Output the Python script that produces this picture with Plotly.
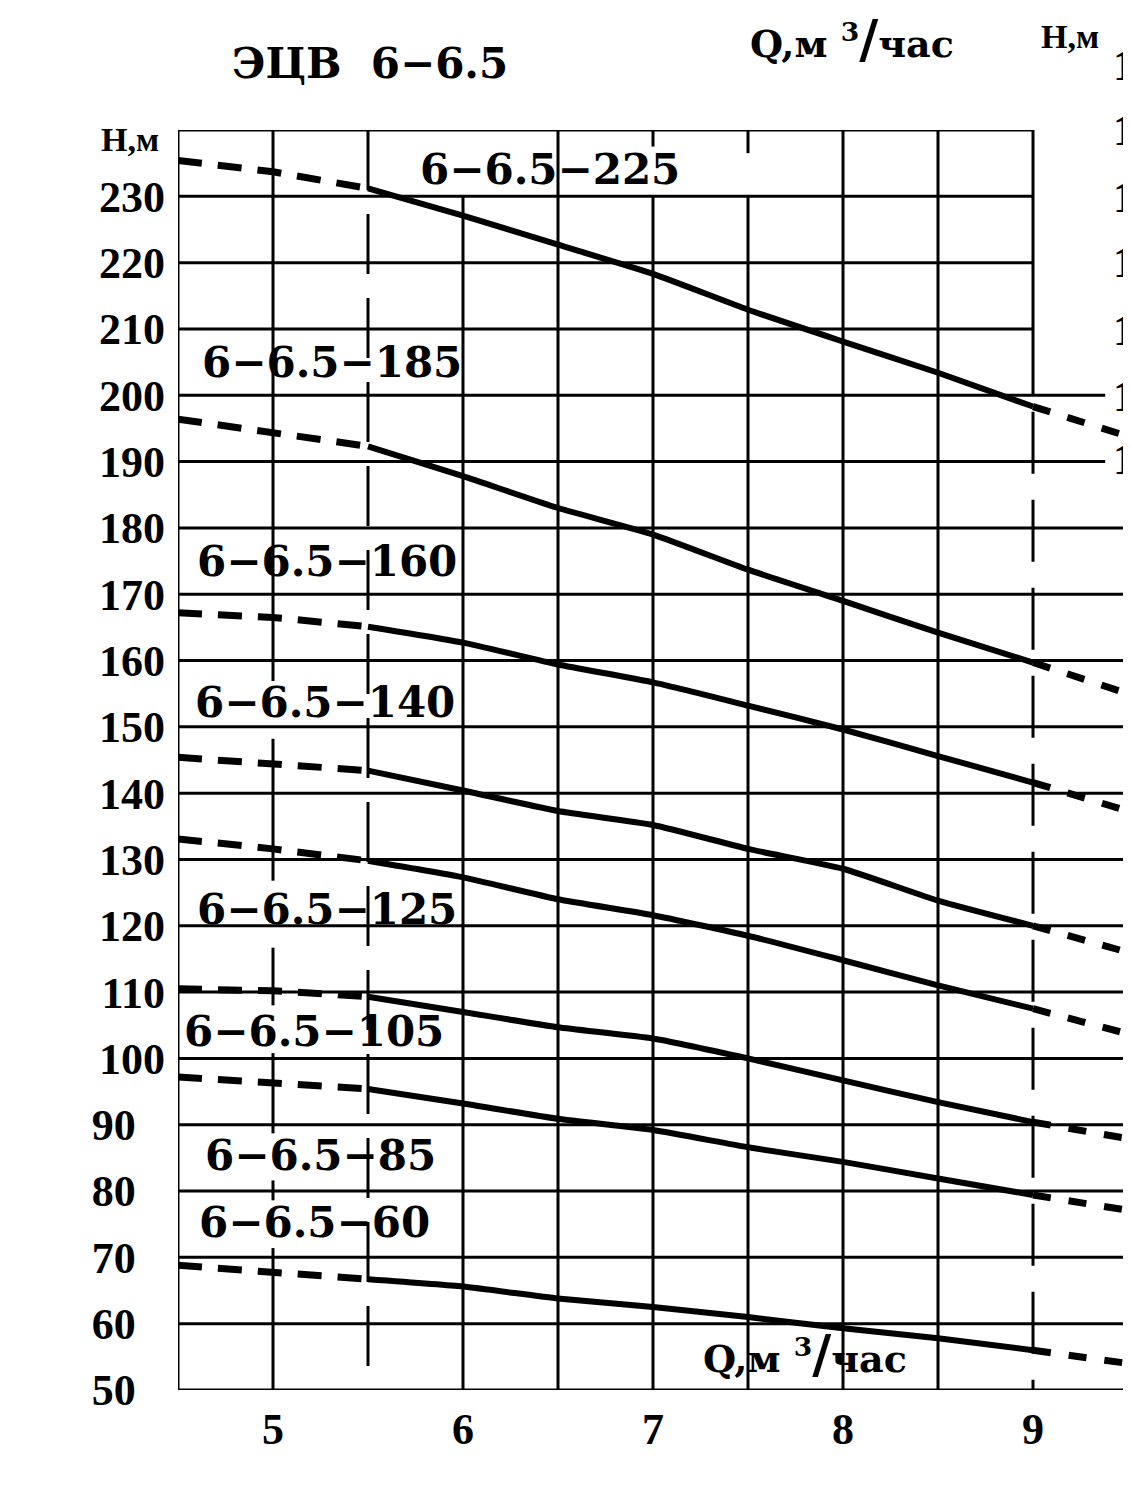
import plotly.graph_objects as go

# ---------------- data ----------------
Q = [4.5, 5.0, 5.5, 6.0, 6.5, 7.0, 7.5, 8.0, 8.5, 9.0, 9.5]
H_225 = [235.4, 233.7, 231.2, 227.1, 222.7, 218.3, 212.9, 208.1, 203.4, 198.3, 193.8]
H_185 = [196.4, 194.3, 192.3, 187.8, 183.0, 179.0, 173.7, 169.0, 164.2, 159.7, 155.0]
H_160 = [167.2, 166.5, 165.1, 162.7, 159.4, 156.7, 153.2, 149.6, 145.6, 141.6, 137.3]
H_140 = [145.4, 144.4, 143.4, 140.4, 137.3, 135.2, 131.6, 128.6, 123.8, 120.0, 116.0]
H_125 = [133.1, 131.6, 129.8, 127.3, 124.0, 121.6, 118.5, 114.8, 111.0, 107.5, 103.7]
H_105 = [110.5, 110.2, 109.3, 107.0, 104.7, 103.0, 100.0, 96.7, 93.4, 90.4, 87.9]
H_85 = [97.2, 96.4, 95.4, 93.2, 90.9, 89.2, 86.6, 84.4, 81.9, 79.4, 77.1]
H_60 = [68.8, 67.8, 66.7, 65.6, 63.8, 62.5, 61.0, 59.3, 57.8, 56.0, 54.0]

curve_names = ["6−6.5−225", "6−6.5−185", "6−6.5−160", "6−6.5−140",
               "6−6.5−125", "6−6.5−105", "6−6.5−85", "6−6.5−60"]
curves = [H_225, H_185, H_160, H_140, H_125, H_105, H_85, H_60]

x_ticks = [5, 6, 7, 8, 9]
y_ticks = list(range(50, 240, 10))
y_ticktext = [(str(v) + "\u00a0\u00a0\u2006") if v < 100 else str(v) for v in y_ticks]

title_text = "ЭЦВ  6−6.5"
q_label = "Q,м <sup>3</sup><span style='font-size:52px'>/</span>час"
h_label = "H,м"

# ---------------- geometry (page pixels; body margin of 8px compensated) ----------------
OFF = 8
PAGE_W, PAGE_H = 1131, 1500
PLOT_L, PLOT_R, PLOT_T, PLOT_B = 178, 1131, 130, 1390   # page pixel box of plot area
W = PAGE_W - OFF
H = PAGE_H - 2 * OFF
ML = PLOT_L - OFF
MT = PLOT_T - OFF
MR = W - (PLOT_R - OFF)
MB = H - (PLOT_B - OFF)
PX_PER_Q = 190.0
x_max = 4.5 + (PLOT_R - PLOT_L) / PX_PER_Q

def px(xp):
    return (xp - PLOT_L) / (PLOT_R - PLOT_L)

def py(yp):
    return (PLOT_B - yp) / (PLOT_B - PLOT_T)

fig = go.Figure()

BLK = "black"

def seg(x0, y0, x1, y1, dash="solid", w=3):
    fig.add_shape(type="line", xref="x", yref="y", x0=x0, y0=y0, x1=x1, y1=y1,
                  line=dict(color=BLK, width=w, dash=dash), layer="below")

# horizontal grid lines
for h in y_ticks[1:]:
    if h <= 180:
        xe = 9.5
    elif h <= 200:
        xe = 9.38
    else:
        xe = 9.0
    seg(4.5, h, xe, h)
# borders
seg(4.5, 50, 4.5, 240)
seg(4.5, 50, 9.5, 50)
seg(4.5, 240, 9.0, 240)
seg(9.5, 50, 9.5, 184)

# vertical grid lines
for q in [6.5, 8.0, 8.5]:
    seg(q, 50, q, 240)
seg(6.0, 50, 6.0, 230)
seg(7.0, 50, 7.0, 230)
seg(7.0, 237.5, 7.0, 240)
seg(7.5, 50, 7.5, 230)
seg(7.5, 236.5, 7.5, 240)
# 5.0 line with gaps where labels sit
gaps_5 = [(148.2, 156.9), (116.7, 126.8), (100.8, 108.0), (81.6, 88.7), (71.4, 78.6)]
top = 240
for g0, g1 in gaps_5:
    seg(5.0, g1, 5.0, top)
    top = g0
seg(5.0, 50, 5.0, top)
# dashed verticals
seg(5.5, 240, 5.5, 50, dash="60px,24px")
seg(9.0, 240, 9.0, 200)
seg(9.0, 197.5, 9.0, 50, dash="62px,26px")

# curves
for hv in curves:
    fig.add_trace(go.Scatter(x=Q[0:3], y=hv[0:3], mode="lines",
                             line=dict(color=BLK, width=7, dash="24px,16px"),
                             hoverinfo="skip"))
    fig.add_trace(go.Scatter(x=Q[2:10], y=hv[2:10], mode="lines",
                             line=dict(color=BLK, width=6, shape="spline", smoothing=0.5),
                             hoverinfo="skip"))
    fig.add_trace(go.Scatter(x=Q[9:11], y=hv[9:11], mode="lines",
                             line=dict(color=BLK, width=7, dash="18px,18px"),
                             hoverinfo="skip"))

LAB_FONT = dict(family="DejaVu Serif", size=42, color=BLK, weight="bold")
label_pos = [(5.763, 234.0), (4.616, 204.9), (4.589, 174.9), (4.579, 153.6),
             (4.589, 122.4), (4.521, 104.1), (4.632, 85.4), (4.600, 75.2)]
for name, (lx, ly) in zip(curve_names, label_pos):
    fig.add_annotation(x=lx, y=ly, xref="x", yref="y", text=name, showarrow=False,
                       xanchor="left", yanchor="middle", font=LAB_FONT)

# title and axis captions
fig.add_annotation(x=px(370), y=py(64), xref="paper", yref="paper", text=title_text,
                   showarrow=False, xanchor="center", yanchor="middle",
                   font=dict(family="DejaVu Serif", size=42, color=BLK, weight="bold"))
QFONT = dict(family="DejaVu Serif", size=38, color=BLK, weight="bold")
fig.add_annotation(x=px(748), y=py(38), xref="paper", yref="paper", text=q_label,
                   showarrow=False, xanchor="left", yanchor="middle", font=QFONT)
fig.add_annotation(x=px(701), y=py(1353), xref="paper", yref="paper", text=q_label,
                   showarrow=False, xanchor="left", yanchor="middle", font=QFONT)
HFONT = dict(family="Liberation Serif", size=34, color=BLK, weight="bold")
fig.add_annotation(x=px(130), y=py(140), xref="paper", yref="paper", text=h_label,
                   showarrow=False, xanchor="center", yanchor="middle", font=HFONT)
fig.add_annotation(x=px(1070), y=py(36), xref="paper", yref="paper", text=h_label,
                   showarrow=False, xanchor="center", yanchor="middle", font=HFONT)
# labels of the neighbouring chart, cut by the page edge as in the scan
for yp in [66, 130, 197, 263, 330, 396, 460]:
    fig.add_annotation(x=px(1111), y=py(yp), xref="paper", yref="paper", text="1",
                       showarrow=False, xanchor="left", yanchor="middle",
                       font=dict(family="Liberation Serif", size=44, color=BLK, weight="bold"))

TICK_FONT = dict(family="Liberation Serif", size=44, color=BLK, weight="bold")
fig.update_layout(
    width=W, height=H,
    margin=dict(l=ML, r=MR, t=MT, b=MB, autoexpand=False),
    paper_bgcolor="white", plot_bgcolor="white",
    showlegend=False,
    xaxis=dict(range=[4.5, x_max], tickvals=x_ticks, ticktext=[str(v) for v in x_ticks],
               showgrid=False, zeroline=False, showline=False, ticks="",
               tickfont=TICK_FONT, ticklabelstandoff=9, fixedrange=True),
    yaxis=dict(range=[50, 240], tickvals=y_ticks, ticktext=y_ticktext,
               showgrid=False, zeroline=False, showline=False, ticks="",
               tickfont=TICK_FONT, ticklabelstandoff=12, fixedrange=True),
)

fig.write_html("out.html", config={"displayModeBar": False})
